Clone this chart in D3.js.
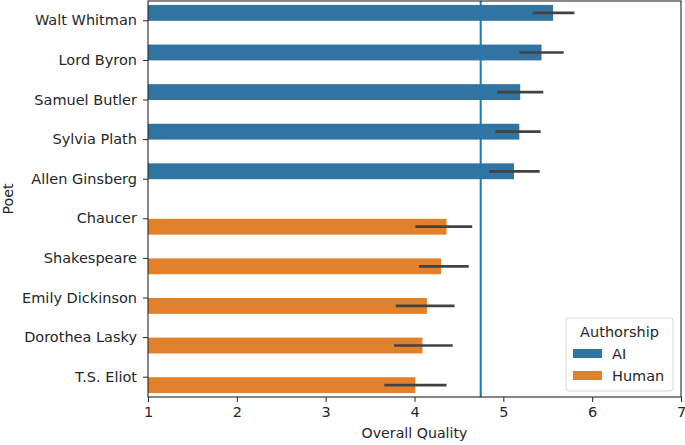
<!DOCTYPE html>
<html>
<head>
<meta charset="utf-8">
<script src="https://cdn.jsdelivr.net/npm/d3@7"></script>
<style>
  body { margin: 0; background: #fff; }
  svg text { font-family: "DejaVu Sans", sans-serif; fill: #262626; }
</style>
</head>
<body>
<svg id="chart" width="685" height="445"></svg>
<script>
// data
const poets = ["Walt Whitman", "Lord Byron", "Samuel Butler", "Sylvia Plath", "Allen Ginsberg",
  "Chaucer", "Shakespeare", "Emily Dickinson", "Dorothea Lasky", "T.S. Eliot"];
const authorship = ["AI", "AI", "AI", "AI", "AI", "Human", "Human", "Human", "Human", "Human"];
const meanQuality = [5.56, 5.43, 5.19, 5.18, 5.12, 4.36, 4.30, 4.14, 4.09, 4.01];
const ciLow = [5.33, 5.18, 4.93, 4.91, 4.84, 4.01, 4.05, 3.79, 3.77, 3.66];
const ciHigh = [5.80, 5.68, 5.45, 5.42, 5.41, 4.65, 4.61, 4.45, 4.43, 4.36];
const groups = ["AI", "Human"];
const xTicks = [1, 2, 3, 4, 5, 6, 7];
const refLine = 4.745;

const colors = { AI: "#3274a1", Human: "#e1812c" };

const margin = { left: 148, right: 4, top: 1, bottom: 48 };
const W = 685, H = 445;
const svg = d3.select("#chart");

const x = d3.scaleLinear().domain([1, 7]).range([margin.left, W - margin.right]);
const y = d3.scaleBand().domain(poets).range([margin.top, H - margin.bottom]).padding(0);
// hue dodge inside each band (width 0.8 of the band)
const yHue = d3.scaleBand().domain(groups).range([0, y.bandwidth() * 0.8]);

const data = poets.map((p, i) => ({ name: p, group: authorship[i], value: meanQuality[i], lo: ciLow[i], hi: ciHigh[i] }));

const g = svg.append("g");

g.selectAll(".bar").data(data).enter().append("rect")
  .attr("class", "bar")
  .attr("x", x(1))
  .attr("y", d => y(d.name) + y.bandwidth() * 0.1 + yHue(d.group))
  .attr("width", d => x(d.value) - x(1))
  .attr("height", yHue.bandwidth())
  .attr("fill", d => colors[d.group]);

g.selectAll(".err").data(data).enter().append("line")
  .attr("class", "err")
  .attr("x1", d => x(d.lo))
  .attr("x2", d => x(d.hi))
  .attr("y1", d => y(d.name) + y.bandwidth() * 0.1 + yHue(d.group) + yHue.bandwidth() / 2)
  .attr("y2", d => y(d.name) + y.bandwidth() * 0.1 + yHue(d.group) + yHue.bandwidth() / 2)
  .attr("stroke", "#424242")
  .attr("stroke-width", 2.7);

// reference line
g.append("line")
  .attr("x1", x(refLine)).attr("x2", x(refLine))
  .attr("y1", margin.top).attr("y2", H - margin.bottom)
  .attr("stroke", "#1f77b4").attr("stroke-width", 2);

// axes
const xAxis = svg.append("g")
  .attr("transform", `translate(0,${H - margin.bottom})`)
  .call(d3.axisBottom(x).tickValues(xTicks).tickFormat(d3.format("d")).tickSizeOuter(0).tickSize(5).tickPadding(5));
const yAxis = svg.append("g")
  .attr("transform", `translate(${margin.left},0)`)
  .call(d3.axisLeft(y).tickSizeOuter(0).tickSize(5).tickPadding(6));
[xAxis, yAxis].forEach(a => {
  a.selectAll("text").attr("font-size", 14.5).attr("font-family", "DejaVu Sans").attr("fill", "#262626");
  a.selectAll("line").attr("stroke", "#262626").attr("stroke-width", 1);
  a.select(".domain").remove();
});

// frame
svg.append("rect")
  .attr("x", margin.left).attr("y", margin.top)
  .attr("width", W - margin.right - margin.left).attr("height", H - margin.bottom - margin.top)
  .attr("fill", "none").attr("stroke", "#262626").attr("stroke-width", 1.1);

svg.append("text").attr("x", (margin.left + W - margin.right) / 2).attr("y", 438)
  .attr("text-anchor", "middle").attr("font-size", 14.2).text("Overall Quality");
svg.append("text").attr("transform", `translate(13,${(margin.top + H - margin.bottom) / 2}) rotate(-90)`)
  .attr("text-anchor", "middle").attr("font-size", 14.2).text("Poet");

// legend
const lg = svg.append("g").attr("transform", "translate(566,318)");
lg.append("rect").attr("width", 107).attr("height", 73).attr("rx", 3)
  .attr("fill", "#fff").attr("fill-opacity", 0.8).attr("stroke", "#d6d6d6");
lg.append("text").attr("x", 53.5).attr("y", 19).attr("text-anchor", "middle").attr("font-size", 14.5).text("Authorship");
groups.forEach((k, i) => {
  lg.append("rect").attr("x", 7).attr("y", 31 + i * 22).attr("width", 29).attr("height", 9).attr("fill", colors[k]);
  lg.append("text").attr("x", 46).attr("y", 41 + i * 22).attr("font-size", 14.5).text(k);
});
</script>
</body>
</html>
